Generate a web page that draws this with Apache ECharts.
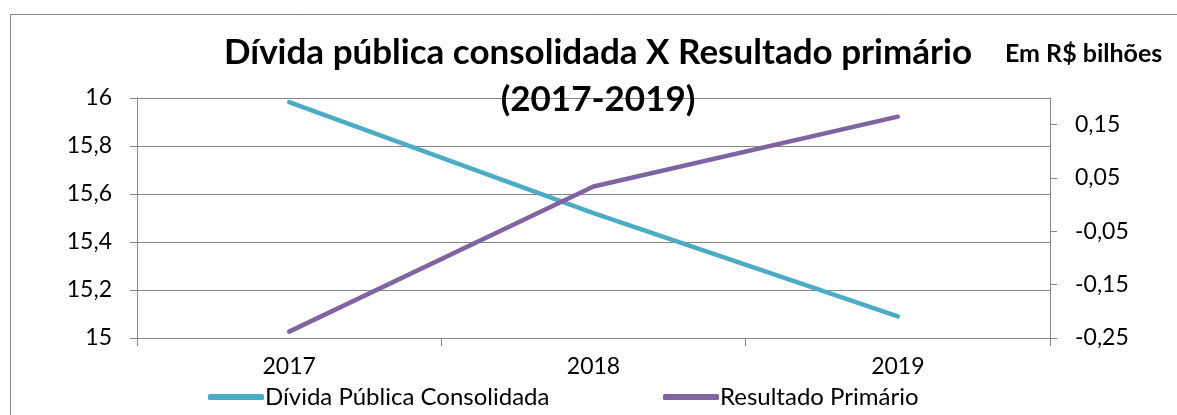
<!DOCTYPE html>
<html>
<head>
<meta charset="utf-8">
<script src="https://cdn.jsdelivr.net/npm/echarts@6/dist/echarts.min.js"></script>
<style>
html,body{margin:0;padding:0;background:#fff;}
#c{width:1177px;height:415px;}
</style>
</head>
<body>
<div id="c"></div>
<script>
const categories = ['2017', '2018', '2019'];
const dividaPublica = [15.983, 15.52, 15.09];
const resultadoPrimario = [-0.238, 0.034, 0.165];
const seriesNames = ['Dívida Pública Consolidada', 'Resultado Primário'];
const rightTicks = [-0.25, -0.15, -0.05, 0.05, 0.15];
const titleLine1 = 'Dívida pública consolidada X Resultado primário';
const titleLine2 = '(2017-2019)';
const unitText = 'Em R$ bilhões';

const FONT = 'Lato';
const axisColor = '#868686';
const fmt = v => parseFloat(Number(v).toFixed(2)).toString().replace('.', ',');

const chart = echarts.init(document.getElementById('c'), null, {renderer: 'canvas'});
chart.setOption({
  animation: false,
  backgroundColor: '#fff',
  textStyle: {fontFamily: FONT},
  grid: {left: 137, right: 127, top: 98, bottom: 77, containLabel: false},
  graphic: [
    {type: 'rect', left: 8, top: 12, shape: {x: 0, y: 0, width: 1200, height: 420},
     style: {fill: 'none', stroke: axisColor, lineWidth: 1}, z: -1, silent: true},
    {type: 'text', x: 598, y: 53, style: {text: titleLine1, textAlign: 'center', textVerticalAlign: 'middle', fill: '#000', font: 'bold 35px ' + FONT}, z: 10},
    {type: 'text', x: 598, y: 100, style: {text: titleLine2, textAlign: 'center', textVerticalAlign: 'middle', fill: '#000', font: 'bold 35px ' + FONT}, z: 10},
    {type: 'text', x: 1005, y: 54, style: {text: unitText, textAlign: 'left', textVerticalAlign: 'middle', fill: '#000', font: 'bold 25px ' + FONT}, z: 10}
  ],
  legend: [
    {data: [seriesNames[0]], left: 203, top: 380, itemWidth: 56, itemHeight: 6, icon: 'roundRect', itemGap: 6,
     textStyle: {fontSize: 24, fontFamily: FONT, color: '#000', padding: [0,0,0,-4]}},
    {data: [seriesNames[1]], left: 658, top: 380, itemWidth: 56, itemHeight: 6, icon: 'roundRect', itemGap: 6,
     textStyle: {fontSize: 24, fontFamily: FONT, color: '#000', padding: [0,0,0,-4]}}
  ],
  xAxis: {
    type: 'category', data: categories, boundaryGap: true,
    axisLine: {show: true, onZero: false, lineStyle: {color: axisColor, width: 1}},
    axisTick: {show: true, length: 8, lineStyle: {color: axisColor}},
    axisLabel: {fontSize: 23, color: '#000', fontFamily: FONT, margin: 17}
  },
  yAxis: [
    {type: 'value', min: 15, max: 16, interval: 0.2, position: 'left',
     axisLine: {show: true, lineStyle: {color: axisColor}},
     axisTick: {show: true, length: 7, lineStyle: {color: axisColor}},
     splitLine: {show: true, lineStyle: {color: axisColor, width: 1}},
     axisLabel: {fontSize: 23, color: '#000', fontFamily: FONT, margin: 25, formatter: fmt}},
    {type: 'value', min: -0.25, max: 0.2, position: 'right',
     axisLine: {show: true, lineStyle: {color: axisColor}},
     axisTick: {show: true, length: 7, customValues: rightTicks, lineStyle: {color: axisColor}},
     splitLine: {show: false},
     axisLabel: {fontSize: 23, color: '#000', fontFamily: FONT, margin: 25, customValues: rightTicks,
       formatter: v => Number(v).toFixed(2).replace('.', ',')}}
  ],
  series: [
    {name: seriesNames[0], type: 'line', yAxisIndex: 0, data: dividaPublica, symbol: 'none',
     lineStyle: {width: 4.5, color: '#4BACC6', cap: 'round', join: 'round'}, itemStyle: {color: '#4BACC6'}},
    {name: seriesNames[1], type: 'line', yAxisIndex: 1, data: resultadoPrimario, symbol: 'none',
     lineStyle: {width: 4.5, color: '#8064A2', cap: 'round', join: 'round'}, itemStyle: {color: '#8064A2'}}
  ]
});
</script>
</body>
</html>
